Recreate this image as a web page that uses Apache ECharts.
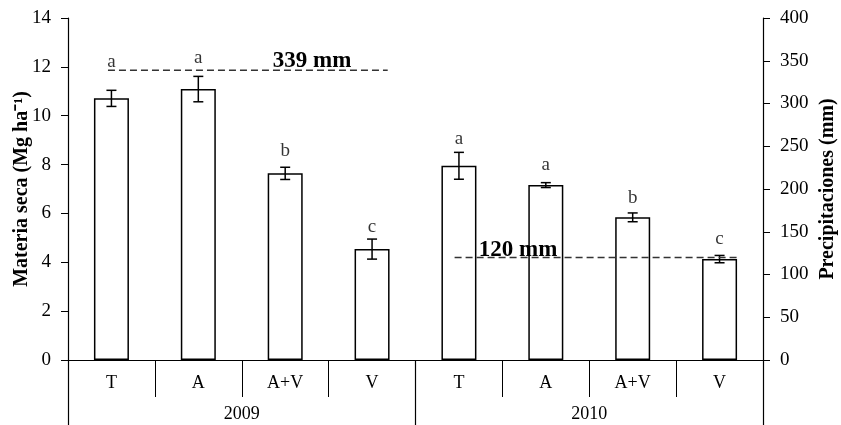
<!DOCTYPE html>
<html>
<head>
<meta charset="utf-8">
<script src="https://cdn.jsdelivr.net/npm/echarts@6/dist/echarts.min.js"></script>
<style>html,body{margin:0;padding:0;background:#fff}#c{width:841px;height:425px}</style>
</head>
<body>
<div id="c"></div>
<script>
// ---- data ----
const years = ['2009', '2010'];
const treatments = ['T', 'A', 'A+V', 'V'];
const materiaSeca = [10.71, 11.09, 7.64, 4.54, 7.95, 7.16, 5.84, 4.13];
const errores = [0.33, 0.52, 0.25, 0.41, 0.55, 0.10, 0.18, 0.15];
const letras = ['a', 'a', 'b', 'c', 'a', 'a', 'b', 'c'];
const letraPos = [12.2, 12.36, 8.55, 5.44, 9.05, 7.98, 6.63, 4.95];
const precipitaciones = [339, 120];
const leftTicks = [0, 2, 4, 6, 8, 10, 12, 14];
const rightTicks = [0, 50, 100, 150, 200, 250, 300, 350, 400];

// ---- build ----
const categories = [];
years.forEach(() => treatments.forEach(t => categories.push(t)));
const FONT = '"Liberation Serif", "Times New Roman", serif';

// layout spans of the rainfall lines (in category-band units) and label positions
const spans = [[0.46, 3.68], [4.45, 7.70]];
const labelX = [2.81, 5.18];
const labelDist = [-2, -4];

const precipSeries = precipitaciones.map((p, k) => ({
  type: 'line',
  xAxisIndex: 2,
  yAxisIndex: 1,
  symbol: 'none',
  silent: true,
  lineStyle: { color: '#333', width: 1.5, type: [7, 4] },
  data: [[spans[k][0], p], [spans[k][1], p]],
  z: 5
}));
const precipLabels = precipitaciones.map((p, k) => ({
  type: 'scatter',
  xAxisIndex: 2,
  yAxisIndex: 1,
  symbolSize: 0,
  itemStyle: { color: '#000', opacity: 1 },
  silent: true,
  data: [[labelX[k], p]],
  label: {
    show: true, position: 'top', distance: labelDist[k],
    formatter: p + ' mm', opacity: 1,
    color: '#000', fontFamily: FONT, fontWeight: 'bold', fontSize: 23
  },
  z: 6
}));

const chart = echarts.init(document.getElementById('c'));
chart.setOption({
  animation: false,
  backgroundColor: '#fff',
  grid: { left: 68, right: 78, top: 18, bottom: 65, outerBoundsMode: 'none', containLabel: false },
  xAxis: [
    {
      type: 'category', data: categories, position: 'bottom',
      axisLine: { show: true, lineStyle: { color: '#000', width: 1.2 } },
      axisTick: { show: true, interval: 0, length: 37, alignWithLabel: false, lineStyle: { color: '#000', width: 1 } },
      axisLabel: { interval: 0, margin: 14, color: '#000', fontFamily: FONT, fontSize: 18 }
    },
    {
      type: 'category', data: years, position: 'bottom',
      axisLine: { show: false },
      axisTick: { show: true, interval: 0, length: 66, alignWithLabel: false, lineStyle: { color: '#000', width: 1.2 } },
      axisLabel: { interval: 0, margin: 45, color: '#000', fontFamily: FONT, fontSize: 18 }
    },
    { type: 'value', min: 0, max: 8, show: false }
  ],
  yAxis: [
    {
      type: 'value', min: leftTicks[0], max: leftTicks[leftTicks.length - 1], interval: leftTicks[1] - leftTicks[0],
      position: 'left',
      name: 'Materia seca (Mg ha\u207B\u00B9)', nameLocation: 'middle', nameGap: 36, nameRotate: 90,
      nameMoveOverlap: false,
      nameTextStyle: { color: '#000', fontFamily: FONT, fontWeight: 'bold', fontSize: 20 },
      axisLine: { show: true, lineStyle: { color: '#000', width: 1.2 } },
      axisTick: { show: true, inside: false, length: 7, lineStyle: { color: '#000' } },
      axisLabel: { margin: 17, color: '#000', fontFamily: FONT, fontSize: 19 },
      splitLine: { show: false }
    },
    {
      type: 'value', min: rightTicks[0], max: rightTicks[rightTicks.length - 1], interval: rightTicks[1] - rightTicks[0],
      position: 'right',
      name: 'Precipitaciones (mm)', nameLocation: 'middle', nameGap: 55, nameRotate: 90,
      nameMoveOverlap: false,
      nameTextStyle: { color: '#000', fontFamily: FONT, fontWeight: 'bold', fontSize: 20 },
      axisLine: { show: true, lineStyle: { color: '#000', width: 1.2 } },
      axisTick: { show: true, inside: false, length: 7, lineStyle: { color: '#000' } },
      axisLabel: { margin: 17, color: '#000', fontFamily: FONT, fontSize: 19 },
      splitLine: { show: false }
    }
  ],
  series: [
    {
      type: 'bar', xAxisIndex: 0, yAxisIndex: 0, barWidth: 35,
      itemStyle: { color: '#fff', borderColor: '#000', borderWidth: 1.5 },
      data: materiaSeca, z: 2
    },
    {
      type: 'custom', xAxisIndex: 0, yAxisIndex: 0, z: 4,
      data: materiaSeca.map((v, i) => [i, v, errores[i]]),
      renderItem: function (params, api) {
        const i = api.value(0), v = api.value(1), e = api.value(2);
        const hi = api.coord([i, v + e]);
        const lo = api.coord([i, v - e]);
        const w = 5;
        const st = { stroke: '#000', lineWidth: 1.5 };
        return {
          type: 'group',
          children: [
            { type: 'line', shape: { x1: hi[0], y1: hi[1], x2: lo[0], y2: lo[1] }, style: st },
            { type: 'line', shape: { x1: hi[0] - w, y1: hi[1], x2: hi[0] + w, y2: hi[1] }, style: st },
            { type: 'line', shape: { x1: lo[0] - w, y1: lo[1], x2: lo[0] + w, y2: lo[1] }, style: st }
          ]
        };
      }
    },
    {
      type: 'scatter', xAxisIndex: 0, yAxisIndex: 0, symbolSize: 0, silent: true,
      data: letraPos.map((y, i) => [i, y]),
      label: {
        show: true, position: 'inside',
        formatter: p => letras[p.dataIndex],
        color: '#000', fontFamily: FONT, fontSize: 19
      }
    },
    ...precipSeries,
    ...precipLabels
  ]
});
</script>
</body>
</html>
